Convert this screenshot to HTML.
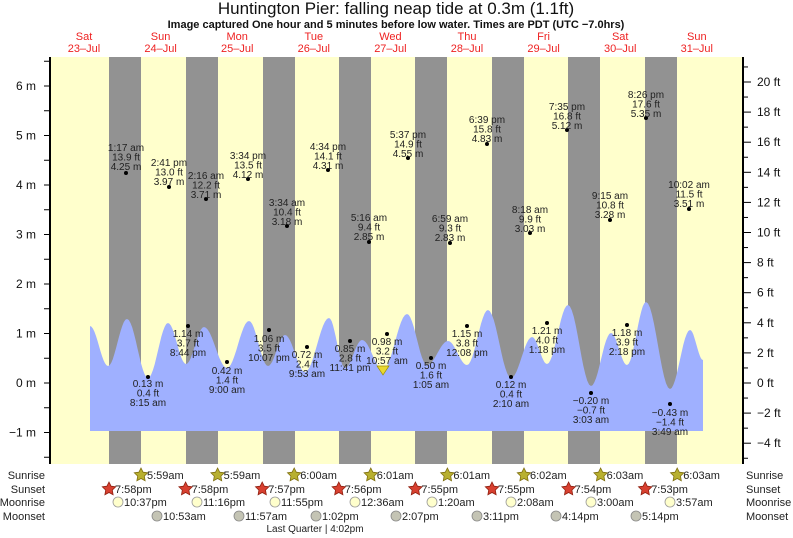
<!DOCTYPE html>
<html><head><meta charset="utf-8"><style>
html,body{margin:0;padding:0;background:#fff;}
svg{display:block;font-family:"Liberation Sans",sans-serif;}
</style></head><body>
<svg id="s" width="793" height="538" viewBox="0 0 793 538" xmlns="http://www.w3.org/2000/svg">
<rect x="50" y="57" width="693" height="407" fill="#ffffcc"/>
<g id="night" fill="#929292"></g>
<path id="tide" fill="#9fb0ff" d=""/>
<g id="ax" stroke="#000"></g>
<g id="lbl" font-size="10" fill="#222" text-anchor="middle"></g>
<text x="396" y="14" font-size="17" text-anchor="middle" fill="#111">Huntington Pier: falling  neap tide at 0.3m (1.1ft)</text>
<text x="396" y="28" font-size="11" font-weight="bold" text-anchor="middle" fill="#111">Image captured One hour and 5 minutes before low water. Times are PDT (UTC −7.0hrs)</text>
<g id="days" font-size="11" fill="#ee2222" text-anchor="middle"></g>
<g id="bot" font-size="11" fill="#222"></g>
<text x="315" y="532" font-size="10" text-anchor="middle" fill="#222">Last Quarter | 4:02pm</text>
</svg>
<script>
const NS="http://www.w3.org/2000/svg";
function el(p,t,a,txt){const e=document.createElementNS(NS,t);for(const k in a)e.setAttribute(k,a[k]);if(txt!==undefined)e.textContent=txt;document.getElementById(p).appendChild(e);return e;}
[109,186,263,339,415,492,568,645].forEach(x=>el("night","rect",{x:x,y:57,width:32,height:407}));
const P=[[90,326],[108,366],[127,319],[148,378],[168,323],[186,364],[204,327],[227,368],[249,321],[268,366],[285,335],[305,372],[329,318],[345,368],[362,340],[383,370],[407,314],[427,365],[448,341],[467,365],[488,310],[511,378],[532,337],[547,364],[568,305],[591,386],[611,333],[627,365],[646,302],[670,389],[690,330],[703,360]];
let d="M90,431 L90,326";
for(let i=0;i<P.length-1;i++){const [x0,y0]=P[i],[x1,y1]=P[i+1];
 const last=(i==P.length-2);
 for(let k=1;k<=12;k++){let t=k/12;if(last){t=t*0.5;}const x=x0+(x1-x0)*(last?k/12:t);
  const y=last? y0+(y1-y0)*(1-Math.cos(Math.PI*k/12))/2 : y0+(y1-y0)*(1-Math.cos(Math.PI*t))/2;
  d+=" L"+x.toFixed(1)+","+y.toFixed(1);}}
d+=" L703,431 Z";
document.getElementById("tide").setAttribute("d",d);
el("ax","line",{x1:50,y1:57,x2:50,y2:464,"stroke-width":2});
el("ax","line",{x1:743,y1:57,x2:743,y2:464,"stroke-width":2});
for(let m=-1.5;m<=6.5;m+=0.5){const y=383-m*49.5;el("ax","line",{x1:44,y1:y,x2:50,y2:y,"stroke-width":1});
 if(Number.isInteger(m)) el("lbl","text",{x:36,y:y+4,"text-anchor":"end","font-size":12,fill:"#111",stroke:"none"},(m<0?"−"+(-m):m)+" m");}
for(let f=-5;f<=21;f++){const y=383-f*15.05;el("ax","line",{x1:743,y1:y,x2:(f%2==0?751:748),y2:y,"stroke-width":1});
 if(f%2==0&&f>=-4&&f<=20) el("lbl","text",{x:757,y:y+4,"text-anchor":"start","font-size":12,fill:"#111"},(f<0?"−"+(-f):f)+" ft");}
const dn=[["Sat","23–Jul"],["Sun","24–Jul"],["Mon","25–Jul"],["Tue","26–Jul"],["Wed","27–Jul"],["Thu","28–Jul"],["Fri","29–Jul"],["Sat","30–Jul"],["Sun","31–Jul"]];
dn.forEach((v,i)=>{const x=84+76.6*i;el("days","text",{x:x,y:40},v[0]);el("days","text",{x:x,y:52},v[1]);});
const H=[[126,173,147,"1:17 am","13.9 ft","4.25 m"],[169,187,162,"2:41 pm","13.0 ft","3.97 m"],[206,199,175,"2:16 am","12.2 ft","3.71 m"],[248,179,155,"3:34 pm","13.5 ft","4.12 m"],[287,226,202,"3:34 am","10.4 ft","3.18 m"],[328,170,146,"4:34 pm","14.1 ft","4.31 m"],[369,242,217,"5:16 am","9.4 ft","2.85 m"],[408,158,134,"5:37 pm","14.9 ft","4.55 m"],[450,243,218,"6:59 am","9.3 ft","2.83 m"],[487,144,119,"6:39 pm","15.8 ft","4.83 m"],[530,233,209,"8:18 am","9.9 ft","3.03 m"],[567,130,106,"7:35 pm","16.8 ft","5.12 m"],[610,220,195,"9:15 am","10.8 ft","3.28 m"],[646,118,94,"8:26 pm","17.6 ft","5.35 m"],[689,209,184,"10:02 am","11.5 ft","3.51 m"]];
H.forEach(h=>{el("lbl","circle",{cx:h[0],cy:h[1],r:2,fill:"#000"});for(let j=0;j<3;j++)el("lbl","text",{x:h[0],y:h[2]+4+j*9.5},h[3+j]);});
const L=[[148,377,383,"0.13 m","0.4 ft","8:15 am"],[188,326,333,"1.14 m","3.7 ft","8:44 pm"],[227,362,370,"0.42 m","1.4 ft","9:00 am"],[269,330,338,"1.06 m","3.5 ft","10:07 pm"],[307,347,354,"0.72 m","2.4 ft","9:53 am"],[350,341,348,"0.85 m","2.8 ft","11:41 pm"],[387,334,341,"0.98 m","3.2 ft","10:57 am"],[431,358,365,"0.50 m","1.6 ft","1:05 am"],[467,326,333,"1.15 m","3.8 ft","12:08 pm"],[511,377,384,"0.12 m","0.4 ft","2:10 am"],[547,323,330,"1.21 m","4.0 ft","1:18 pm"],[591,393,400,"−0.20 m","−0.7 ft","3:03 am"],[627,325,332,"1.18 m","3.9 ft","2:18 pm"],[670,404,412,"−0.43 m","−1.4 ft","3:49 am"]];
L.forEach(h=>{el("lbl","circle",{cx:h[0],cy:h[1],r:2,fill:"#000"});for(let j=0;j<3;j++)el("lbl","text",{x:h[0],y:h[2]+4+j*9.5},h[3+j]);});
el("lbl","path",{d:"M377,366 L389,366 L383,375 Z",fill:"#e8d830",stroke:"#a09000","stroke-width":0.7});
[["Sunrise",479],["Sunset",493],["Moonrise",506],["Moonset",520]].forEach(r=>{el("bot","text",{x:45,y:r[1],"text-anchor":"end"},r[0]);el("bot","text",{x:746,y:r[1]},r[0]);});
function star(x,y,f,s){let p="";for(let i=0;i<10;i++){const a=-Math.PI/2+i*Math.PI/5,r=i%2?3.5:7;p+=(i?"L":"M")+(x+r*Math.cos(a)).toFixed(1)+","+(y+r*Math.sin(a)).toFixed(1);}el("bot","path",{d:p+"Z",fill:f,stroke:s,"stroke-width":0.8});}
const sr=["5:59am","5:59am","6:00am","6:01am","6:01am","6:02am","6:03am","6:03am"];
sr.forEach((t,i)=>{const x=141+76.6*i;star(x,475,"#b8b030","#807010");el("bot","text",{x:x+6,y:479,"font-size":11},t);});
const ss=["7:58pm","7:58pm","7:57pm","7:56pm","7:55pm","7:55pm","7:54pm","7:53pm"];
ss.forEach((t,i)=>{const x=109+76.6*i;star(x,489,"#d84030","#902010");el("bot","text",{x:x+6,y:493,"font-size":11},t);});
const mr=[[118,"10:37pm"],[197,"11:16pm"],[275,"11:55pm"],[355,"12:36am"],[432,"1:20am"],[511,"2:08am"],[591,"3:00am"],[670,"3:57am"]];
mr.forEach(m=>{el("bot","circle",{cx:m[0],cy:502,r:5,fill:"#ffffcc",stroke:"#999","stroke-width":0.8});el("bot","text",{x:m[0]+6,y:506,"font-size":11},m[1]);});
const ms=[[157,"10:53am"],[239,"11:57am"],[316,"1:02pm"],[396,"2:07pm"],[477,"3:11pm"],[556,"4:14pm"],[636,"5:14pm"]];
ms.forEach(m=>{el("bot","circle",{cx:m[0],cy:516,r:5,fill:"#c4c4b4",stroke:"#888","stroke-width":0.8});el("bot","text",{x:m[0]+6,y:520,"font-size":11},m[1]);});
</script>
</body></html>
